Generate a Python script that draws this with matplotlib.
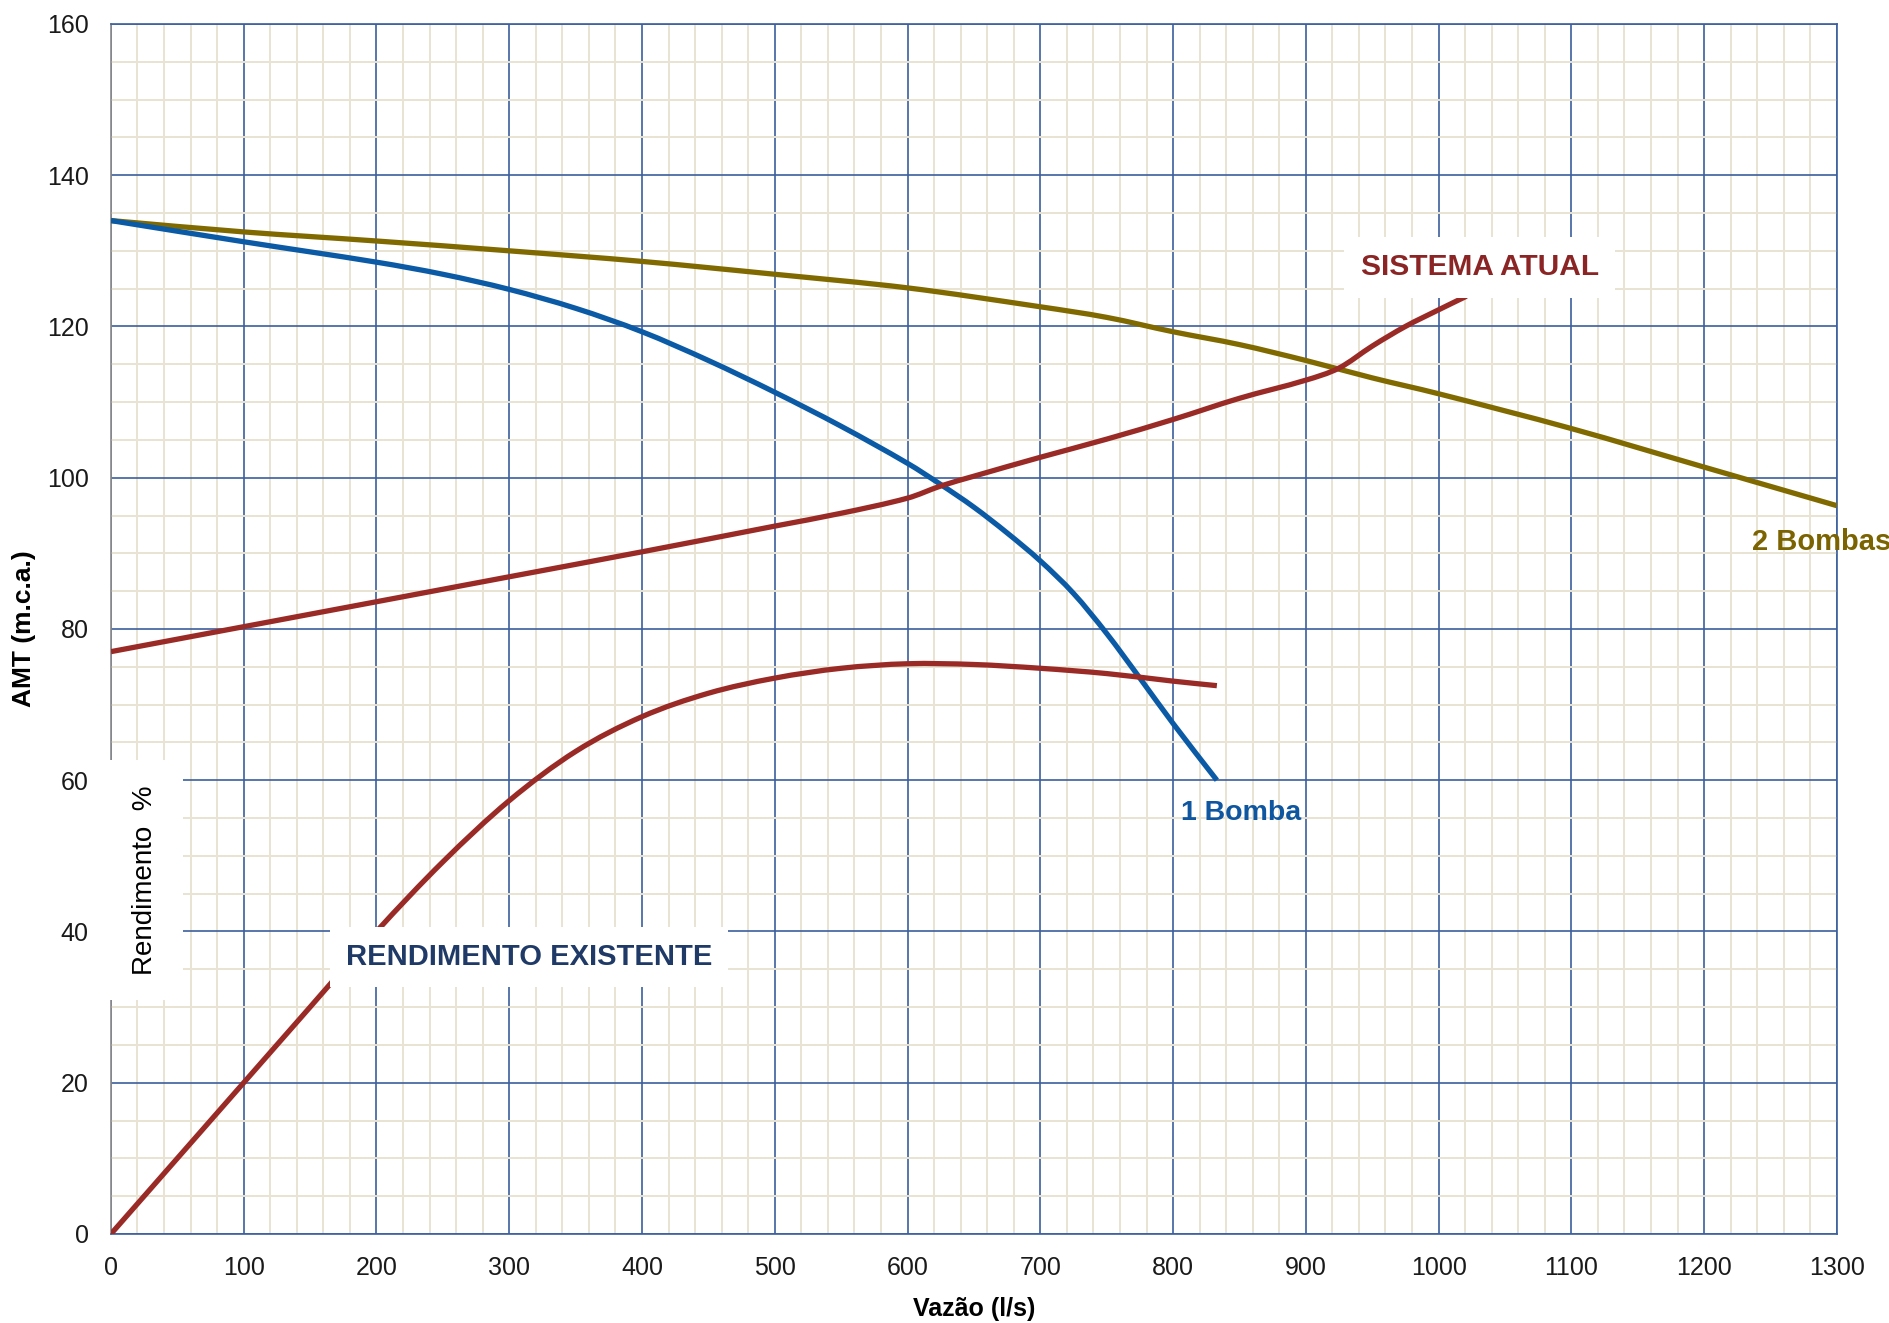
import matplotlib.pyplot as plt
from matplotlib.ticker import MultipleLocator
from matplotlib.path import Path
from matplotlib.patches import PathPatch
import numpy as np

plt.rcParams['font.family'] = ['Liberation Sans', 'DejaVu Sans']

# curva de 2 bombas em paralelo
q_2b = [0, 100, 200, 300, 400, 500, 600, 700, 750, 800, 850, 900, 950, 1000, 1100, 1200, 1300]
h_2b = [134, 132.5, 131.3, 130.0, 128.6, 126.9, 125.1, 122.6, 121.2, 119.3, 117.6, 115.5, 113.2,
        111.1, 106.5, 101.4, 96.3]

# curva de 1 bomba
q_1b = [0, 100, 200, 250, 300, 350, 400, 450, 500, 550, 600, 625, 650, 675, 700, 725, 750, 775,
        800, 833]
h_1b = [134, 131.2, 128.5, 126.9, 124.9, 122.4, 119.3, 115.5, 111.3, 106.8, 101.9, 99.1, 96.1,
        92.7, 89.0, 84.7, 79.4, 73.5, 67.5, 60]

# curva do sistema atual
q_sis = [0, 100, 200, 300, 400, 500, 550, 600, 625, 650, 700, 750, 800, 850, 900, 925, 950, 975,
         1000, 1021]
h_sis = [77, 80.3, 83.6, 86.9, 90.2, 93.6, 95.3, 97.3, 98.9, 100.2, 102.7, 105.1, 107.7, 110.5,
         112.9, 114.5, 117.4, 120.0, 122.2, 124.0]

# rendimento existente (%)
q_ren = [0, 100, 150, 200, 250, 300, 350, 400, 450, 500, 550, 600, 650, 700, 750, 800, 833]
ren = [0, 20, 30, 40, 49.2, 57.3, 63.8, 68.4, 71.5, 73.5, 74.8, 75.4, 75.3, 74.8, 74.1, 73.1, 72.5]

c_olive = '#806A00'
c_blue = '#0B5AA6'
c_red = '#9A2A26'
c_major = '#3C5F9E'
c_minor = '#E8E3D2'


def smooth_path(x, y):
    # bezier cubica passando pelos pontos, tangentes por diferencas finitas em x
    x = np.asarray(x, float)
    y = np.asarray(y, float)
    n = len(x)
    m = np.empty(n)
    m[0] = (y[1] - y[0]) / (x[1] - x[0])
    m[-1] = (y[-1] - y[-2]) / (x[-1] - x[-2])
    for i in range(1, n - 1):
        m[i] = (y[i + 1] - y[i - 1]) / (x[i + 1] - x[i - 1])
    verts = [(x[0], y[0])]
    codes = [Path.MOVETO]
    for i in range(n - 1):
        h = (x[i + 1] - x[i]) / 3
        verts += [(x[i] + h, y[i] + m[i] * h),
                  (x[i + 1] - h, y[i + 1] - m[i + 1] * h),
                  (x[i + 1], y[i + 1])]
        codes += [Path.CURVE4] * 3
    return Path(verts, codes)


fig = plt.figure(figsize=(18.9, 13.23), dpi=100)
ax = fig.add_axes([0.0587, 0.0673, 0.9132, 0.9146])

for xs, ys, col in [(q_2b, h_2b, c_olive), (q_1b, h_1b, c_blue),
                    (q_sis, h_sis, c_red), (q_ren, ren, c_red)]:
    ax.add_patch(PathPatch(smooth_path(xs, ys), facecolor='none', edgecolor=col,
                           lw=3.8, zorder=3, joinstyle='round', capstyle='butt'))

ax.set_xlim(0, 1300)
ax.set_ylim(0, 160)
ax.xaxis.set_major_locator(MultipleLocator(100))
ax.xaxis.set_minor_locator(MultipleLocator(20))
ax.yaxis.set_major_locator(MultipleLocator(20))
ax.yaxis.set_minor_locator(MultipleLocator(5))
ax.grid(which='minor', color=c_minor, lw=1.4, zorder=0)
ax.grid(which='major', color=c_major, lw=1.2, zorder=1)
ax.set_axisbelow(True)
ax.tick_params(which='both', length=0, labelsize=18, colors='#1a1a1a')
ax.tick_params(axis='y', pad=16)
ax.tick_params(axis='x', pad=16)

for s in ['top', 'right', 'bottom']:
    ax.spines[s].set_color(c_major)
    ax.spines[s].set_linewidth(1.2)
ax.spines['left'].set_color('#8a8a8a')
ax.spines['left'].set_linewidth(1.2)

ax.set_xlabel('Vazão (l/s)', fontsize=18, fontweight='bold', labelpad=12)
ax.set_ylabel('AMT (m.c.a.)', fontsize=19, fontweight='bold', labelpad=8)

box = dict(boxstyle='square,pad=0.55', facecolor='white', edgecolor='none')
ax.text(1031, 127.8, 'SISTEMA ATUAL', color='#8B2525', fontsize=21.5, fontweight='bold',
        ha='center', va='center', bbox=box, zorder=5)
ax.text(315, 36.6, 'RENDIMENTO EXISTENTE', color='#1F3A66', fontsize=21, fontweight='bold',
        ha='center', va='center', bbox=box, zorder=5)
ax.text(25.5, 46.8, 'Rendimento  %', color='black', fontsize=20, rotation=90,
        ha='center', va='center', zorder=5,
        bbox=dict(boxstyle='square,pad=0.9', facecolor='white', edgecolor='none'))
ax.text(806, 55.6, '1 Bomba', color='#0E56A0', fontsize=20.5, fontweight='bold',
        ha='left', va='center', zorder=5)
ax.text(1236, 91.5, '2 Bombas', color='#7A6300', fontsize=21, fontweight='bold',
        ha='left', va='center', zorder=5, clip_on=False)

fig.savefig('out.png', dpi=100)
